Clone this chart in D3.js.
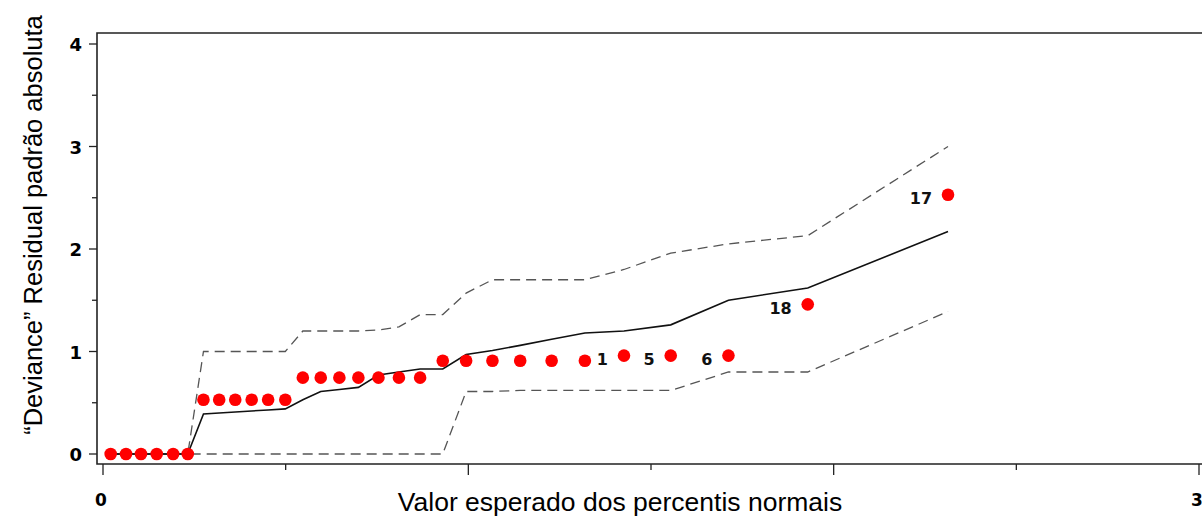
<!DOCTYPE html>
<html><head><meta charset="utf-8">
<script src="https://cdn.jsdelivr.net/npm/d3@7"></script>
<style>
body{margin:0;background:#fff;}
svg{display:block;}
</style></head>
<body><svg id="c" width="1202" height="519"></svg>
<script>
// expected half-normal percentiles (x)
const expected = [0.021,0.063,0.104,0.147,0.192,0.232,0.275,0.318,0.362,0.407,0.452,0.499,0.547,0.596,0.647,0.699,0.754,0.810,0.868,0.930,0.994,1.066,1.142,1.228,1.319,1.426,1.554,1.712,1.929,2.313];
// absolute standardized deviance residuals
const residual = [0,0,0,0,0,0,0.53,0.53,0.53,0.53,0.53,0.53,0.745,0.745,0.745,0.745,0.745,0.745,0.745,0.91,0.91,0.91,0.91,0.91,0.91,0.96,0.96,0.96,1.46,2.53];
// simulated envelope
const envLower = [0,0,0,0,0,0,0,0,0,0,0,0,0,0,0,0,0,0,0,0,0.61,0.61,0.62,0.62,0.62,0.62,0.62,0.80,0.80,1.39];
const envMedian = [0,0,0,0,0,0,0.39,0.40,0.41,0.42,0.43,0.44,0.53,0.61,0.63,0.65,0.77,0.80,0.83,0.83,0.97,1.01,1.06,1.12,1.18,1.20,1.26,1.50,1.62,2.17];
const envUpper = [0,0,0,0,0,0,1.0,1.0,1.0,1.0,1.0,1.0,1.2,1.2,1.2,1.2,1.21,1.24,1.36,1.36,1.57,1.70,1.70,1.70,1.70,1.80,1.96,2.05,2.13,3.0];
// point labels (observation ids), blank = no label
const obsLabels = ["","","","","","","","","","","","","","","","","","","","","","","","","","1","5","6","18","17"];
const yTickLabels = ["0","1","2","3","4"];
const xTickLabels = ["0","3"];
const xTitle = "Valor esperado dos percentis normais";
const yTitle = "\u201cDeviance\u201d Residual padr\u00e3o absoluta";

const svg = d3.select("#c");
const x = d3.scaleLinear().domain([0,3]).range([103,1199]);
const y = d3.scaleLinear().domain([0,4]).range([454,44]);
const frameL = 97, frameT = 33, frameB = 464, frameR = 1230;

// frame (top + left + bottom)
svg.append("path")
  .attr("d", `M${frameR},${frameT}H${frameL}V${frameB}H${frameR}`)
  .attr("fill","none").attr("stroke","#222").attr("stroke-width",1.6);

// y ticks
const yTicks = d3.range(0, 4.01, 0.5);
svg.append("g").selectAll("line").data(yTicks).join("line")
  .attr("x1", d => frameL - (d % 1 === 0 ? 8 : 5)).attr("x2", frameL)
  .attr("y1", d => y(d)).attr("y2", d => y(d))
  .attr("stroke","#222").attr("stroke-width",1.3);
svg.append("g").selectAll("text").data(yTickLabels).join("text")
  .attr("x", 82).attr("y", d => y(+d) + 1).attr("dy","0.36em")
  .attr("text-anchor","end")
  .attr("font-family","DejaVu Sans, sans-serif")
  .attr("font-weight","bold").attr("font-size",18).attr("fill","#000")
  .text(d => d);

// x ticks
const xTicks = d3.range(0, 3.01, 0.5);
svg.append("g").selectAll("line").data(xTicks).join("line")
  .attr("x1", d => x(d)).attr("x2", d => x(d))
  .attr("y1", frameB).attr("y2", d => frameB + (d % 1 === 0 ? 11 : 6))
  .attr("stroke","#222").attr("stroke-width",1.3);
svg.append("g").selectAll("text").data(xTickLabels).join("text")
  .attr("x", d => x(+d) - 2).attr("y", 500).attr("dy","0.36em")
  .attr("text-anchor","middle")
  .attr("font-family","DejaVu Sans, sans-serif")
  .attr("font-weight","bold").attr("font-size",17).attr("fill","#000")
  .text(d => d);

// envelope lines
const idx = d3.range(expected.length);
const lineOf = arr => d3.line().x(i => x(expected[i])).y(i => y(arr[i]))(idx);
svg.append("path").attr("d", lineOf(envLower)).attr("fill","none")
  .attr("stroke","#555").attr("stroke-width",1.3).attr("stroke-dasharray","10,6");
svg.append("path").attr("d", lineOf(envUpper)).attr("fill","none")
  .attr("stroke","#555").attr("stroke-width",1.3).attr("stroke-dasharray","10,6");
svg.append("path").attr("d", lineOf(envMedian)).attr("fill","none")
  .attr("stroke","#111").attr("stroke-width",1.6);

// points
svg.append("g").selectAll("circle").data(idx).join("circle")
  .attr("cx", i => x(expected[i])).attr("cy", i => y(residual[i]))
  .attr("r", 6.3).attr("fill","#f00");

// labels
svg.append("g").selectAll("text").data(idx.filter(i => obsLabels[i])).join("text")
  .attr("x", i => x(expected[i]) - 16).attr("y", i => y(residual[i]) + 4)
  .attr("dy","0.36em").attr("text-anchor","end")
  .attr("font-family","DejaVu Sans, sans-serif")
  .attr("font-weight","bold").attr("font-size",16).attr("fill","#111")
  .text(i => obsLabels[i]);

// axis titles
svg.append("text").attr("x", 620).attr("y", 501).attr("dy","0.36em")
  .attr("text-anchor","middle")
  .attr("font-family","Liberation Sans, Arial, sans-serif")
  .attr("font-size",26.5).attr("fill","#000").text(xTitle);
svg.append("text").attr("transform","translate(33,225) rotate(-90)")
  .attr("dy","0.36em").attr("text-anchor","middle")
  .attr("font-family","Liberation Sans, Arial, sans-serif")
  .attr("font-size",25.5).attr("fill","#000").text(yTitle);
</script></body></html>
